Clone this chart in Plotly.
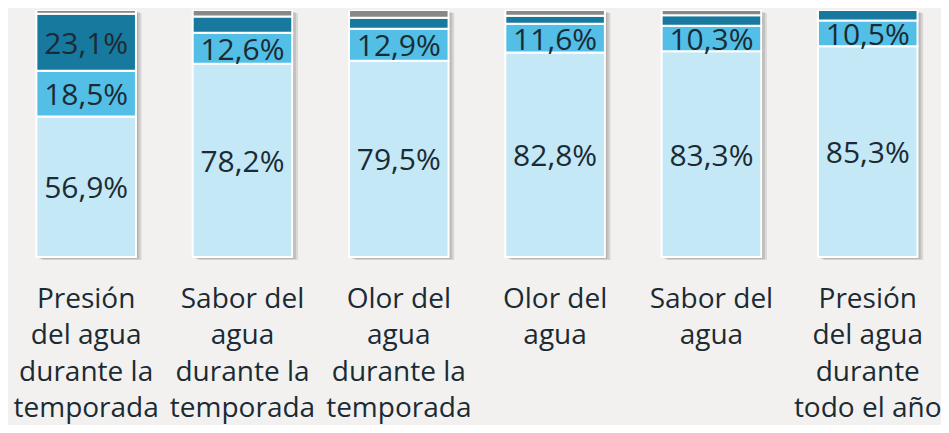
import numpy as np
import plotly.graph_objects as go

categorias = [
    "Presión<br>del agua<br>durante la<br>temporada",
    "Sabor del<br>agua<br>durante la<br>temporada",
    "Olor del<br>agua<br>durante la<br>temporada",
    "Olor del<br>agua",
    "Sabor del<br>agua",
    "Presión<br>del agua<br>durante<br>todo el año",
]
muy_bien = [56.9, 78.2, 79.5, 82.8, 83.3, 85.3]
bien = [18.5, 12.6, 12.9, 11.6, 10.3, 10.5]
regular = [23.1, 6.6, 4.5, 3.3, 4.3, 4.2]
mal = [1.5, 2.6, 3.1, 2.3, 2.1, 0.0]

# etiquetas visibles solo donde el original las muestra
etiq_regular = ["23,1%", "", "", "", "", ""]

colores = ["#c5e8f6", "#53bfe6", "#17799e", "#888888"]
texto = "#1b2b34"
fuente = "Open Sans"

series = [muy_bien, bien, regular, mal]
textos = [
    [f"{v:.1f}%".replace(".", ",") for v in muy_bien],
    [f"{v:.1f}%".replace(".", ",") for v in bien],
    etiq_regular,
    [""] * 6,
]

ancho = 0.637
x = list(range(len(categorias)))
total = np.sum(series, axis=0)

fig = go.Figure()

# sombra suave a la derecha de cada barra
for k in range(3):
    fig.add_trace(go.Bar(
        x=x, y=total, base=[-0.6 - 0.3 * k] * 6, width=ancho,
        offset=-ancho / 2 + 0.012 + 0.012 * k,
        marker=dict(color="rgba(0,0,0,0.10)", line=dict(width=0)),
        hoverinfo="skip", showlegend=False,
    ))

base = np.zeros(len(categorias))
for vals, col, txt in zip(series, colores, textos):
    fig.add_trace(go.Bar(
        x=x, y=vals, base=base.copy(), width=ancho,
        marker=dict(color=col, line=dict(color="white", width=2)),
        text=txt, textposition="inside", insidetextanchor="middle",
        constraintext="none",
        textfont=dict(family=fuente, size=30, color=texto),
        showlegend=False,
    ))
    base = base + np.array(vals)

fig.update_layout(
    barmode="overlay",
    width=933, height=417,
    paper_bgcolor="#f2f1ef", plot_bgcolor="#f2f1ef",
    margin=dict(l=0, r=0, t=2, b=157),
    font=dict(family=fuente, size=28, color=texto),
)
fig.update_xaxes(
    tickvals=x, ticktext=categorias, range=[-0.5, 5.443],
    showgrid=False, zeroline=False, showline=False, ticks="",
    tickangle=0, ticklabelstandoff=12, ticklabeloverflow="allow",
)
fig.update_yaxes(range=[-4, 100], visible=False)

fig.write_html("out.html")
